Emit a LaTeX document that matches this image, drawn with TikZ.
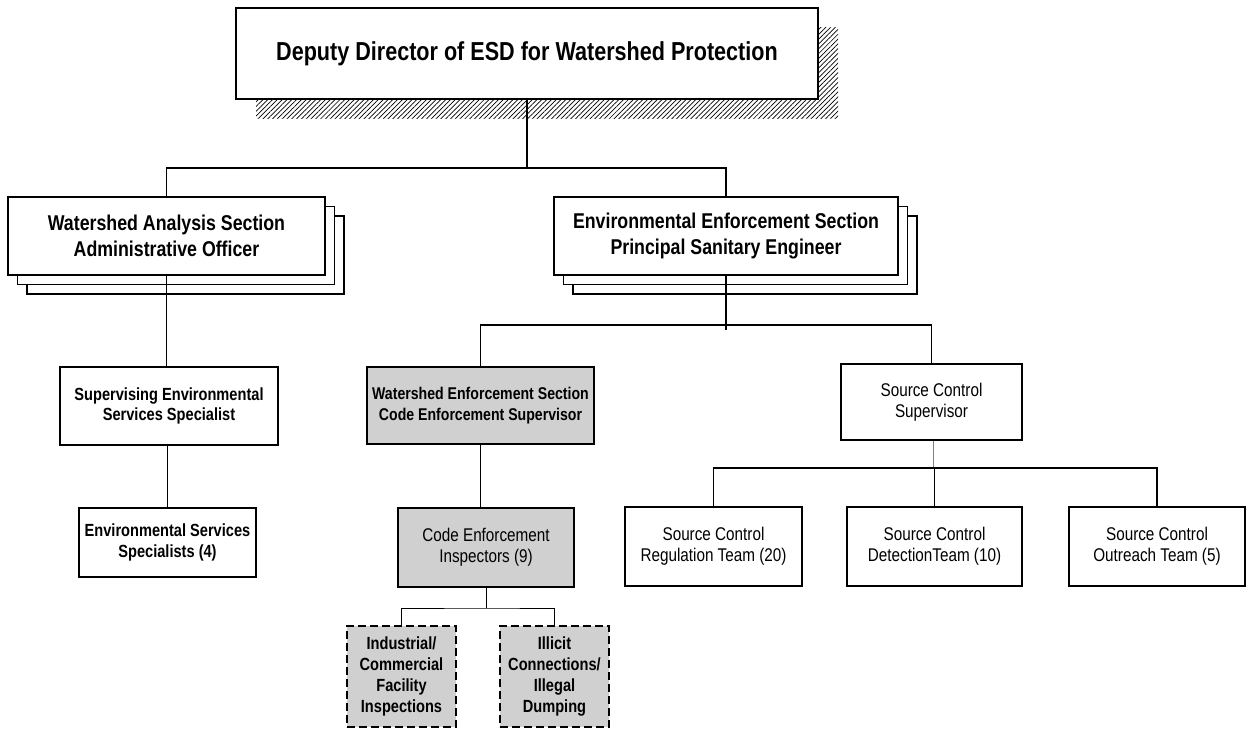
\documentclass[tikz,border=0pt]{standalone}
\usepackage{fontspec}
\setmainfont{Liberation Sans}[FakeStretch=0.83]
\usetikzlibrary{patterns.meta}
\definecolor{boxgray}{RGB}{208,208,208}
\begin{document}
\begin{tikzpicture}[x=1pt,y=-1pt,
  box/.style={draw, line width=1.3pt, fill=white, inner sep=0pt, align=center, anchor=center},
  graybox/.style={box, fill=boxgray},
  dashbox/.style={box, fill=boxgray, dash pattern=on 8pt off 4pt, line width=1.5pt},
  bigtxt/.style={font={\bfseries\fontsize{26}{30}\selectfont}},
  sectxt/.style={font={\bfseries\fontsize{21.4}{25.7}\selectfont}},
  boldtxt/.style={font={\bfseries\fontsize{17.6}{20.5}\selectfont}},
  regtxt/.style={font={\fontsize{18.4}{21}\selectfont}},
  link/.style={draw, line width=1.3pt},
  thinlink/.style={draw, line width=1pt},
  graylink/.style={draw, line width=1pt, gray}
]
\useasboundingbox (0,0) rectangle (1249,728);

% top box with hatched shadow
\fill[pattern={Lines[angle=45,distance=3.4pt,line width=0.7pt]}] (256,27) rectangle (838,118);
\node[box, bigtxt, minimum width=582pt, minimum height=91pt] (top) at (527,53.5)
  {Deputy Director of ESD for Watershed Protection};

% section boxes (stacked)
\node[box, minimum width=317pt, minimum height=78pt] (wa3) at (185.5,255) {};
\node[box, minimum width=317pt, minimum height=78pt] (wa2) at (176,245.5) {};
\node[box, sectxt, minimum width=317pt, minimum height=78pt] (wa) at (166.5,236)
  {Watershed Analysis Section\\Administrative Officer};

\node[box, minimum width=344pt, minimum height=78pt] (ee3) at (745,255) {};
\node[box, minimum width=344pt, minimum height=78pt] (ee2) at (735.5,245.5) {};
\node[box, sectxt, minimum width=344pt, minimum height=78pt] (ee) at (726,236)
  {Environmental Enforcement Section\\Principal Sanitary Engineer};

% left column
\node[box, boldtxt, minimum width=218pt, minimum height=78pt] (ses) at (169,406)
  {Supervising Environmental\\Services Specialist};
\node[box, boldtxt, minimum width=177pt, minimum height=69pt] (ess) at (167.5,542.5)
  {Environmental Services\\Specialists (4)};

% middle column
\node[graybox, font={\bfseries\fontsize{17}{20.5}\selectfont}, minimum width=227pt, minimum height=77pt] (wes) at (480.5,405.5)
  {Watershed Enforcement Section\\Code Enforcement Supervisor};
\node[graybox, regtxt, minimum width=176pt, minimum height=79pt] (cei) at (486,547.5)
  {Code Enforcement\\Inspectors (9)};
\node[dashbox, font={\bfseries\fontsize{17.6}{21}\selectfont}, minimum width=109pt, minimum height=101pt] (ind) at (401.5,676.5)
  {Industrial/\\Commercial\\Facility\\Inspections};
\node[dashbox, font={\bfseries\fontsize{17.6}{21}\selectfont}, minimum width=109pt, minimum height=101pt] (ill) at (554.5,676.5)
  {Illicit\\Connections/\\Illegal\\Dumping};

% right column
\node[box, regtxt, minimum width=181pt, minimum height=76pt] (scs) at (931.5,402)
  {Source Control\\Supervisor};
\node[box, regtxt, minimum width=177pt, minimum height=79pt] (reg) at (713.5,546.5)
  {Source Control\\Regulation Team (20)};
\node[box, regtxt, minimum width=175pt, minimum height=79pt] (det) at (934.5,546.5)
  {Source Control\\DetectionTeam (10)};
\node[box, regtxt, minimum width=176pt, minimum height=79pt] (out) at (1157,546.5)
  {Source Control\\Outreach Team (5)};

% junctions
\coordinate (j1) at (527,168);
\coordinate (j2) at (726,325);
\coordinate (j2e) at (726,330);
\coordinate (j3) at (486,608);
\coordinate (j4) at (933,468);

% connectors
\path[link] (top.south) -- (j1);
\path[link] (wa.north) |- (j1) -| (ee.north);
\path[link] (ee.south) -- (j2e);
\path[link] (wes.north) |- (j2) -| (scs.north);
\path[link] (wa.south) -- (wa.south |- ses.north);
\path[link] (ses.south -| ess.north) -- (ess.north);
\path[link] (wes.south) -- (wes.south |- cei.north);
\path[thinlink] (cei.south) -- (j3);
\path[thinlink] (ind.north) |- (j3) -| (ill.north);
\path[graylink] (scs.south -| j4) -- (j4);
\path[link] (reg.north) |- (j4) -| (out.north);
\path[link] (det.north) -- (det.north |- j4);
\end{tikzpicture}
\end{document}
